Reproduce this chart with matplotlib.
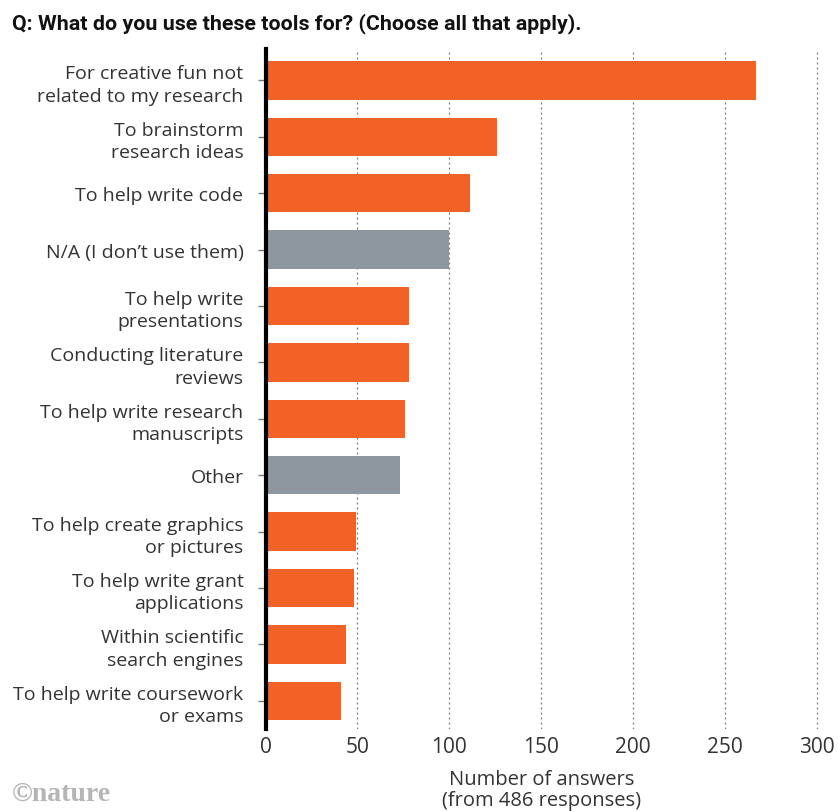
import matplotlib
matplotlib.use("Agg")
import matplotlib.pyplot as plt

categories = [
    "For creative fun not\nrelated to my research",
    "To brainstorm\nresearch ideas",
    "To help write code",
    "N/A (I don\u2019t use them)",
    "To help write\npresentations",
    "Conducting literature\nreviews",
    "To help write research\nmanuscripts",
    "Other",
    "To help create graphics\nor pictures",
    "To help write grant\napplications",
    "Within scientific\nsearch engines",
    "To help write coursework\nor exams",
]
values = [267, 126, 111, 100, 78, 78, 76, 73, 49, 48, 44, 41]
is_gray = [False, False, False, True, False, False, False, True, False, False, False, False]
xticks = [0, 50, 100, 150, 200, 250, 300]

ORANGE = "#F26125"
GRAY = "#8E969F"
TEXT = "#333333"

plt.rcParams["font.family"] = ["Open Sans", "DejaVu Sans"]

fig = plt.figure(figsize=(8.38, 8.12), dpi=100)
ax = fig.add_axes([0.317, 0.101, 0.673, 0.837])

ypos = list(range(len(categories)))
colors = [GRAY if g else ORANGE for g in is_gray]
ax.barh(ypos, values, height=0.68, color=colors, zorder=3)

ax.set_ylim(len(categories) - 0.5, -0.55)
ax.set_xlim(0, 307)
ax.set_yticks(ypos)
ax.set_yticklabels(categories, fontsize=14, color=TEXT, linespacing=1.32)
ax.set_xticks(xticks)
ax.set_xticklabels([str(t) for t in xticks], fontsize=15, color=TEXT)

for t in xticks[1:]:
    ax.axvline(t, color="#777777", linestyle=(0, (1.5, 2.5)), linewidth=0.9, zorder=1)

for s in ["top", "right", "bottom"]:
    ax.spines[s].set_visible(False)
ax.spines["left"].set_linewidth(3)
ax.spines["left"].set_color("black")
ax.spines["left"].set_zorder(4)

ax.tick_params(axis="y", length=6, width=1, color="#777777", pad=10)
ax.tick_params(axis="x", length=0, pad=5)

ax.set_xlabel("Number of answers\n(from 486 responses)", fontsize=14.5, color=TEXT,
              linespacing=1.05, labelpad=9)
ax.xaxis.label.set_position((150 / 307, 0))

fig.text(0.014, 0.983, "Q: What do you use these tools for? (Choose all that apply).",
         fontsize=15.4, fontweight="bold", family=["Roboto", "DejaVu Sans"],
         color="#111111", va="top", ha="left")
fig.text(0.014, 0.006, "\u00a9nature", fontsize=20, fontweight="bold",
         family=["Liberation Serif", "DejaVu Serif"], color="#B5B5B5",
         va="bottom", ha="left")

fig.savefig("out.png", dpi=100)
